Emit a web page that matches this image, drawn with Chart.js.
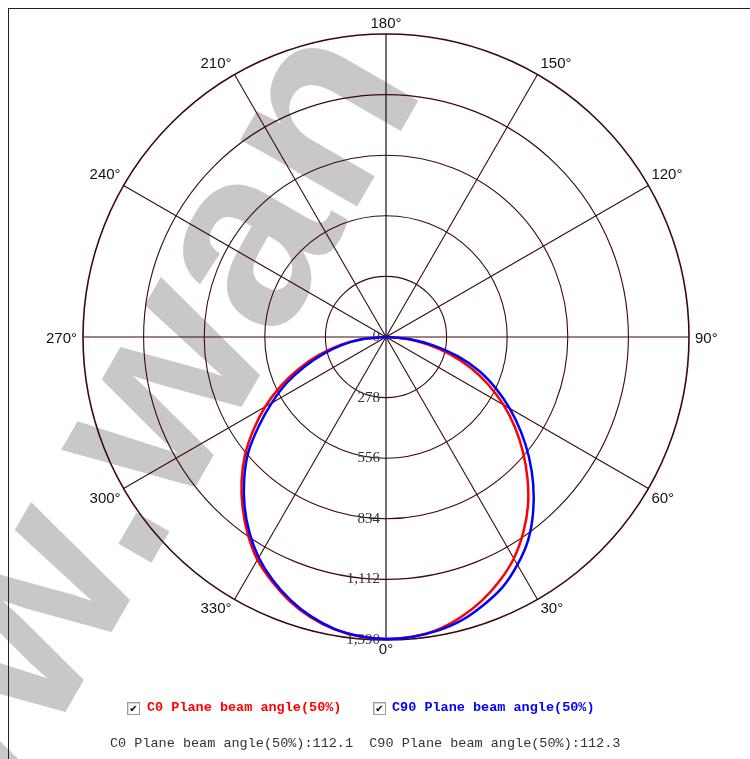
<!DOCTYPE html>
<html lang="en">
<head>
<meta charset="UTF-8">
<title>Polar light distribution</title>
<script src="https://cdn.jsdelivr.net/npm/chart.js"></script>
<style>
  html, body { margin: 0; padding: 0; background: #fff; }
  body { width: 750px; height: 759px; position: relative; overflow: hidden; }
  #mark { position: absolute; left: 0; top: 0; }
  #frame { position: absolute; left: 8px; top: 8px; width: 800px; height: 800px; border-left: 1px solid #222; border-top: 1px solid #222; }
  #polar { position: absolute; left: 0; top: 0; }
  .box { position: absolute; top: 702px; width: 11px; height: 11px; border: 1px solid #9a9a9a; background: #fff;
         box-shadow: inset 1px 1px 0 #d8d8d8; font: 10px "DejaVu Sans"; line-height: 11px; text-align: center; color: #000; }
  .legend { position: absolute; top: 700px; font: bold 13.5px "Liberation Mono", monospace; line-height: 16px; white-space: pre; }
  #summary { position: absolute; left: 110px; top: 736px; font: 13.5px "Liberation Mono", monospace; line-height: 16px; color: #333; white-space: pre; }
</style>
</head>
<body>
<svg id="mark" width="750" height="759">
  <text x="-150" y="1085" transform="rotate(-60 -150 1085)" font-family="Liberation Sans" font-weight="bold" font-size="255" fill="#c8c8c8">www.wan</text>
</svg>
<div id="frame"></div>
<canvas id="polar" width="750" height="759"></canvas>

<span class="box" style="left:127px">✔</span>
<span class="legend" style="left:147px;color:#ff0000">C0 Plane beam angle(50%)</span>
<span class="box" style="left:373px">✔</span>
<span class="legend" style="left:392px;color:#0000ff">C90 Plane beam angle(50%)</span>
<div id="summary">C0 Plane beam angle(50%):112.1  C90 Plane beam angle(50%):112.3</div>

<script>
// angles 0..355 every 5 degrees (0 at bottom, 90 on the right)
const angles = [0, 5, 10, 15, 20, 25, 30, 35, 40, 45, 50, 55, 60, 65, 70, 75, 80, 85,
  90, 95, 100, 105, 110, 115, 120, 125, 130, 135, 140, 145, 150, 155, 160, 165, 170, 175,
  180, 185, 190, 195, 200, 205, 210, 215, 220, 225, 230, 235, 240, 245, 250, 255, 260, 265,
  270, 275, 280, 285, 290, 295, 300, 305, 310, 315, 320, 325, 330, 335, 340, 345, 350, 355];

// intensity, same order as angles
const c0 = [1385, 1380, 1363, 1330, 1287, 1234, 1173, 1097, 1013, 918, 820, 722, 623, 518, 413, 303, 193, 95,
  8, 0, 0, 0, 0, 0, 0, 0, 0, 0, 0, 0, 0, 0, 0, 0, 0, 0,
  0, 0, 0, 0, 0, 0, 0, 0, 0, 0, 0, 0, 0, 0, 0, 0, 0, 0,
  12, 112, 215, 318, 425, 533, 640, 742, 845, 937, 1023, 1105, 1180, 1238, 1290, 1332, 1362, 1379];
const c90 = [1385, 1381, 1368, 1345, 1308, 1266, 1206, 1137, 1050, 955, 856, 755, 655, 555, 455, 340, 220, 105,
  8, 0, 0, 0, 0, 0, 0, 0, 0, 0, 0, 0, 0, 0, 0, 0, 0, 0,
  0, 0, 0, 0, 0, 0, 0, 0, 0, 0, 0, 0, 0, 0, 0, 0, 0, 0,
  10, 105, 200, 295, 398, 505, 605, 712, 825, 920, 1010, 1093, 1168, 1230, 1283, 1327, 1360, 1378];

const angleLabels = [0, 30, 60, 90, 120, 150, 180, 210, 240, 270, 300, 330];
const ringMax = 1390;
const ringStep = 278;

const brown = '#3c0808';

// radar goes clockwise from the start angle, the chart counter-clockwise: reverse the order
const order = angles.map((a, i) => (angles.length - i) % angles.length);
const degAt = i => angles[order[i]];

const polarLabels = {
  id: 'polarLabels',
  beforeDatasetsDraw(chart) {
    const r = chart.scales.r;
    const ctx = chart.ctx;
    ctx.save();
    ctx.font = '15px "Liberation Serif"';
    ctx.fillStyle = '#333';
    ctx.textAlign = 'right';
    ctx.textBaseline = 'middle';
    r.ticks.forEach(t => {
      ctx.fillText(t.label, r.xCenter - 6, r.yCenter + r.getDistanceFromCenterForValue(t.value));
    });
    ctx.restore();
  },
  afterDraw(chart) {
    const r = chart.scales.r;
    const ctx = chart.ctx;
    const R = r.drawingArea;
    ctx.save();
    ctx.font = '15px "Liberation Sans"';
    ctx.fillStyle = '#111';
    ctx.textBaseline = 'alphabetic';
    angleLabels.forEach(deg => {
      const i = order.findIndex(k => angles[k] === deg);
      const p = r.getPointPosition(i, R);
      const sx = (p.x - r.xCenter) / R, sy = (p.y - r.yCenter) / R;
      let x = p.x, y = p.y;
      if (sx > 0.1) { ctx.textAlign = 'left'; x += 3; }
      else if (sx < -0.1) { ctx.textAlign = 'right'; x -= 3; }
      else ctx.textAlign = 'center';
      if (sy < -0.1) y -= 6.5;
      else if (sy > 0.1) y += 14;
      else { y += 5.5; x += sx > 0 ? 3 : -3; }
      ctx.fillText(deg + '°', x, y);
    });
    ctx.restore();
  }
};

new Chart(document.getElementById('polar'), {
  type: 'radar',
  data: {
    labels: order.map(k => angles[k]),
    datasets: [
      { label: 'C0 Plane beam angle(50%)', data: order.map(k => c0[k]), borderColor: '#ff0000', borderWidth: 2.5, fill: false, order: 1 },
      { label: 'C90 Plane beam angle(50%)', data: order.map(k => c90[k]), borderColor: '#0000ff', borderWidth: 2.5, fill: false, order: 0 }
    ]
  },
  options: {
    responsive: false,
    animation: false,
    devicePixelRatio: 1,
    layout: { padding: { left: 83, right: 61, top: 34, bottom: 119 } },
    plugins: { legend: { display: false }, tooltip: { enabled: false } },
    elements: { point: { radius: 0 }, line: { tension: 0.3 } },
    scales: {
      r: {
        min: 0,
        max: ringMax,
        startAngle: 180,
        ticks: { stepSize: ringStep, display: false },
        pointLabels: { display: false },
        grid: { circular: true, color: brown, lineWidth: c => c.index === 5 ? 1.6 : 1.1 },
        angleLines: {
          color: c => (degAt(c.index) % 180 === 0) ? '#000' : brown,
          lineWidth: c => degAt(c.index) % 30 === 0 ? 1.1 : 0
        }
      }
    }
  },
  plugins: [polarLabels]
});
</script>
</body>
</html>
